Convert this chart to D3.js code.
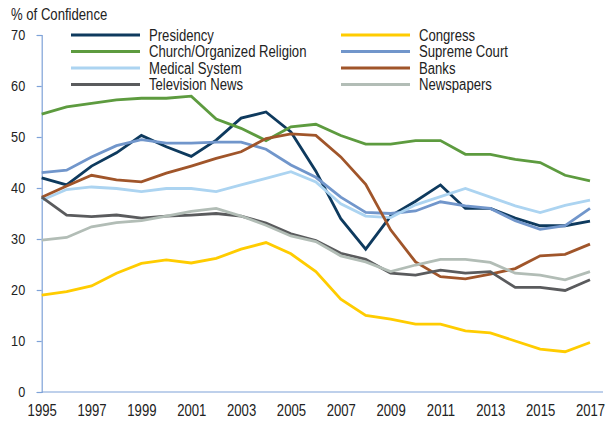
<!DOCTYPE html>
<html>
<head>
<meta charset="utf-8">
<script src="https://cdn.jsdelivr.net/npm/d3@7"></script>
<style>
  body { margin: 0; background: #fff; }
  svg text { font-family: "Liberation Sans", Arial, sans-serif; fill: #222; }
</style>
</head>
<body>
<div class="chart"></div>
<script>
// years and tick labels
var years = d3.range(1995, 2018);
var yTicks = [0, 10, 20, 30, 40, 50, 60, 70];
var xTicks = d3.range(1995, 2018, 2);

// % of confidence
var presidency = [42, 40.6, 44.3, 46.9, 50.3, 48.1, 46.2, 49.4, 53.7, 54.9, 51, 43.3, 34, 28, 34.5, 37.4, 40.6, 36, 36, 34.1, 32.6, 32.6, 33.5];
var congress = [19, 19.7, 20.8, 23.3, 25.2, 25.9, 25.3, 26.2, 28, 29.3, 27.1, 23.6, 18.2, 15, 14.3, 13.3, 13.3, 12, 11.6, 10, 8.4, 7.9, 9.7];
var church = [54.5, 55.9, 56.6, 57.3, 57.6, 57.6, 58, 53.5, 51.7, 49.3, 52, 52.5, 50.3, 48.6, 48.6, 49.3, 49.3, 46.6, 46.6, 45.6, 45, 42.5, 41.4];
var supremeCourt = [43, 43.5, 46.1, 48.3, 49.5, 48.8, 48.8, 49, 49, 47.6, 44.5, 42.1, 38.2, 35.2, 35, 35.5, 37.3, 36.5, 36, 33.6, 31.9, 32.6, 36];
var medical = [37.6, 39.7, 40.2, 39.9, 39.3, 39.9, 39.9, 39.3, 40.6, 41.9, 43.2, 41.2, 36.9, 34.5, 34.2, 36.7, 38.3, 39.9, 38.2, 36.5, 35.2, 36.6, 37.6];
var banks = [38.2, 40.4, 42.5, 41.6, 41.2, 42.9, 44.3, 45.8, 47.1, 49.7, 50.6, 50.3, 46.1, 40.7, 31.8, 25.5, 22.6, 22.2, 23.1, 24.2, 26.7, 27, 29];
var tvNews = [38.2, 34.7, 34.4, 34.7, 34.1, 34.5, 34.7, 35, 34.5, 33.1, 31, 29.7, 27.2, 26, 23.3, 22.9, 23.9, 23.3, 23.6, 20.5, 20.5, 19.9, 22];
var newspapers = [29.8, 30.3, 32.4, 33.2, 33.6, 34.5, 35.4, 36, 34.5, 32.7, 30.6, 29.5, 26.7, 25.5, 23.6, 24.9, 26, 26, 25.4, 23.3, 22.9, 22, 23.6];

var series = [
  {name: "Presidency", values: presidency, color: "#0e3a5e"},
  {name: "Congress", values: congress, color: "#ffcc00"},
  {name: "Church/Organized Religion", values: church, color: "#5d9b3f"},
  {name: "Supreme Court", values: supremeCourt, color: "#7196cb"},
  {name: "Medical System", values: medical, color: "#acd4f1"},
  {name: "Banks", values: banks, color: "#a0552a"},
  {name: "Television News", values: tvNews, color: "#5a5b5d"},
  {name: "Newspapers", values: newspapers, color: "#b2bdb6"}
];

var width = 608,
    height = 421;
var plotLeft = 41.7, plotRight = 590, plotTop = 35, plotBottom = 392;
var axisColor = "#7ea2d8";
var narrow = "scale(0.82,1)";   // squeeze Liberation Sans into a narrow face

var svg = d3.select(".chart")
  .append("svg")
    .attr("width", width)
    .attr("height", height);

var x = d3.scaleLinear().domain([1995, 2017]).range([plotLeft, plotRight]);
var y = d3.scaleLinear().domain([0, 70]).range([plotBottom, plotTop]);

// title
svg.append("text")
  .attr("transform", "translate(11,19.5) " + narrow)
  .attr("font-size", 16)
  .text("% of Confidence");

// y axis
var yAxis = svg.append("g")
  .attr("transform", "translate(" + plotLeft + ",0)")
  .call(d3.axisLeft(y).tickValues(yTicks).tickSize(5));
yAxis.select(".domain").attr("stroke", axisColor).attr("stroke-width", 1.2);
yAxis.selectAll(".tick line").attr("stroke", axisColor).attr("stroke-width", 1.2);
yAxis.selectAll("text")
  .attr("font-size", 15.5)
  .attr("fill", "#222")
  .attr("x", -16.5 / 0.82)
  .attr("transform", narrow);

// x axis (baseline only, no tick marks)
var xAxis = svg.append("g")
  .attr("transform", "translate(0," + plotBottom + ")")
  .call(d3.axisBottom(x).tickValues(xTicks).tickFormat(d3.format("d")).tickSize(0).tickPadding(13));
xAxis.select(".domain").remove();
xAxis.selectAll("text")
  .attr("font-size", 16)
  .attr("fill", "#222")
  .attr("transform", narrow);
svg.append("line")
  .attr("x1", plotLeft).attr("x2", 603)
  .attr("y1", plotBottom).attr("y2", plotBottom)
  .attr("stroke", axisColor)
  .attr("stroke-width", 1.2);

// lines
var line = d3.line()
  .x((d, i) => x(years[i]))
  .y(d => y(d));

svg.append("g")
  .selectAll("path")
  .data(series)
  .join("path")
    .attr("d", d => line(d.values))
    .attr("fill", "none")
    .attr("stroke", d => d.color)
    .attr("stroke-width", 2.8)
    .attr("stroke-linejoin", "miter");

// legend, two columns
var legend = svg.append("g")
  .selectAll("g")
  .data(series)
  .join("g")
    .attr("transform", (d, i) => "translate(" + (i % 2 == 0 ? 71 : 341) + "," + (35 + Math.floor(i / 2) * 16.5) + ")");

legend.append("line")
  .attr("x1", 0).attr("x2", 69)
  .attr("y1", 0).attr("y2", 0)
  .attr("stroke", d => d.color)
  .attr("stroke-width", 3);

legend.append("text")
  .attr("transform", "translate(78,5.5) " + narrow)
  .attr("font-size", 16)
  .text(d => d.name);
</script>
</body>
</html>
